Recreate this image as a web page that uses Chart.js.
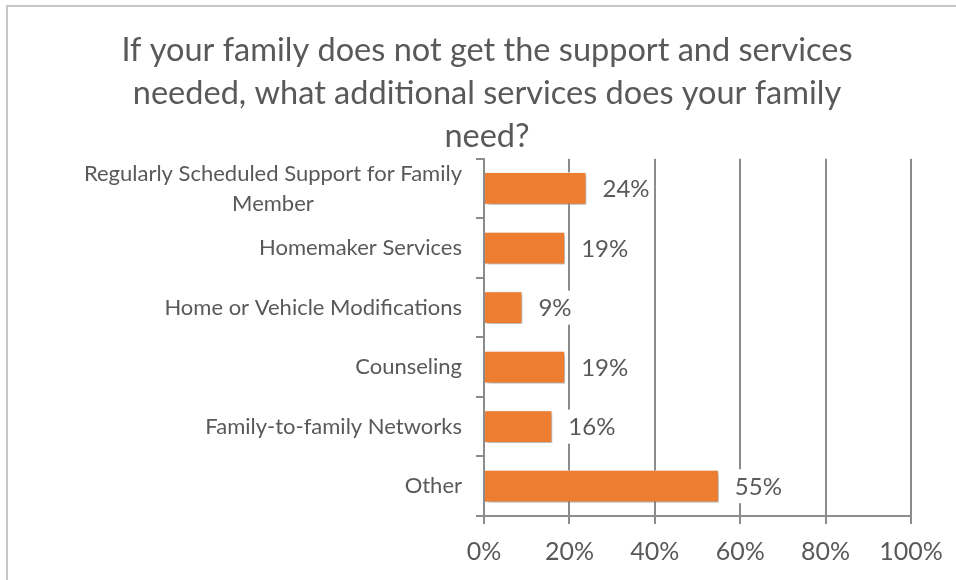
<!DOCTYPE html>
<html>
<head>
<meta charset="utf-8">
<script src="https://cdn.jsdelivr.net/npm/chart.js@4"></script>
<style>
	html, body { margin: 0; padding: 0; background: #fff; }
	#wrap { position: relative; width: 956px; height: 580px; }
	#frame { position: absolute; left: 6px; top: 5px; right: 0; bottom: 0; border-top: 2px solid #c6c6c6; border-left: 2px solid #c6c6c6; pointer-events: none; }
</style>
</head>
<body>
<div id="wrap">
	<canvas id="chart" width="956" height="580"></canvas>
	<div id="frame"></div>
</div>
<script>
const categories = [
	["Regularly Scheduled Support for Family", "Member"],
	"Homemaker Services",
	"Home or Vehicle Modifications",
	"Counseling",
	"Family-to-family Networks",
	"Other"
];
const percentages = [24, 19, 9, 19, 16, 55];
const xTicks = [0, 20, 40, 60, 80, 100];

const titleLines = [
	"If your family does not get the support and services",
	"needed, what additional services does your family",
	"need?"
];

const textGray = "#595959";
const gridGray = "#8c8c8c";
const fontName = "Lato";

// shadow under the bars
const barShadow = {
	id: "barShadow",
	beforeDatasetsDraw(chart) {
		const ctx = chart.ctx;
		ctx.save();
		ctx.shadowColor = "rgba(0,0,0,0.35)";
		ctx.shadowBlur = 4;
		ctx.shadowOffsetX = 2;
		ctx.shadowOffsetY = 2;
	},
	afterDatasetsDraw(chart) {
		chart.ctx.restore();
	}
};

// value labels with white box over the gridlines
const valueLabels = {
	id: "valueLabels",
	afterDatasetsDraw(chart) {
		const ctx = chart.ctx;
		const meta = chart.getDatasetMeta(0);
		ctx.save();
		ctx.font = "24px " + fontName;
		ctx.textBaseline = "middle";
		ctx.textAlign = "left";
		meta.data.forEach((bar, i) => {
			const txt = percentages[i] + "%";
			const x = bar.x + 16;
			const w = ctx.measureText(txt).width;
			ctx.fillStyle = "#fff";
			ctx.fillRect(x - 4, bar.y - 17, w + 8, 34);
			ctx.fillStyle = textGray;
			ctx.fillText(txt, x, bar.y + 1);
		});
		ctx.restore();
	}
};

// category labels, each block centred on its widest line, right edge fixed
const categoryLabels = {
	id: "categoryLabels",
	afterDraw(chart) {
		const ctx = chart.ctx;
		const yScale = chart.scales.y;
		const right = chart.chartArea.left - 22;
		const lineH = 30;
		ctx.save();
		ctx.font = "22px " + fontName;
		ctx.fillStyle = textGray;
		ctx.textAlign = "center";
		ctx.textBaseline = "middle";
		categories.forEach((cat, i) => {
			const lines = Array.isArray(cat) ? cat : [cat];
			const widest = Math.max(...lines.map(l => ctx.measureText(l).width));
			const cx = right - widest / 2;
			const yc = yScale.getPixelForValue(i);
			const y0 = yc - (lines.length - 1) * lineH / 2;
			lines.forEach((l, k) => ctx.fillText(l, cx, y0 + k * lineH));
		});
		ctx.restore();
	}
};

new Chart(document.getElementById("chart").getContext("2d"), {
	type: "bar",
	data: {
		labels: categories,
		datasets: [{
			data: percentages,
			backgroundColor: "#ED7D31",
			borderColor: "rgba(255,255,255,0.6)",
			borderWidth: 1,
			barPercentage: 0.55,
			categoryPercentage: 1
		}]
	},
	options: {
		indexAxis: "y",
		responsive: false,
		animation: false,
		layout: { padding: { left: 18, right: 0, top: 0, bottom: 0 } },
		plugins: {
			legend: { display: false },
			tooltip: { enabled: false },
			title: {
				display: true,
				text: titleLines,
				color: textGray,
				font: { family: fontName, size: 32.5, weight: "normal", lineHeight: 1.32 },
				padding: { top: 29, bottom: 1 }
			}
		},
		scales: {
			x: {
				min: 0,
				max: 100,
				afterBuildTicks(scale) {
					scale.ticks = xTicks.map(v => ({ value: v }));
				},
				afterFit(scale) { scale.paddingRight = 45; },
				ticks: {
					callback: v => v + "%",
					color: textGray,
					font: { family: fontName, size: 25 },
					padding: 13,
					maxRotation: 0
				},
				grid: { color: gridGray, lineWidth: 2, tickLength: 8 },
				border: { color: gridGray, width: 2 }
			},
			y: {
				afterFit(scale) { scale.width = 466; },
				ticks: { display: false },
				grid: { offset: true, drawOnChartArea: false, color: gridGray, lineWidth: 2, tickLength: 8 },
				border: { color: gridGray, width: 2 }
			}
		}
	},
	plugins: [barShadow, valueLabels, categoryLabels]
});
</script>
</body>
</html>
